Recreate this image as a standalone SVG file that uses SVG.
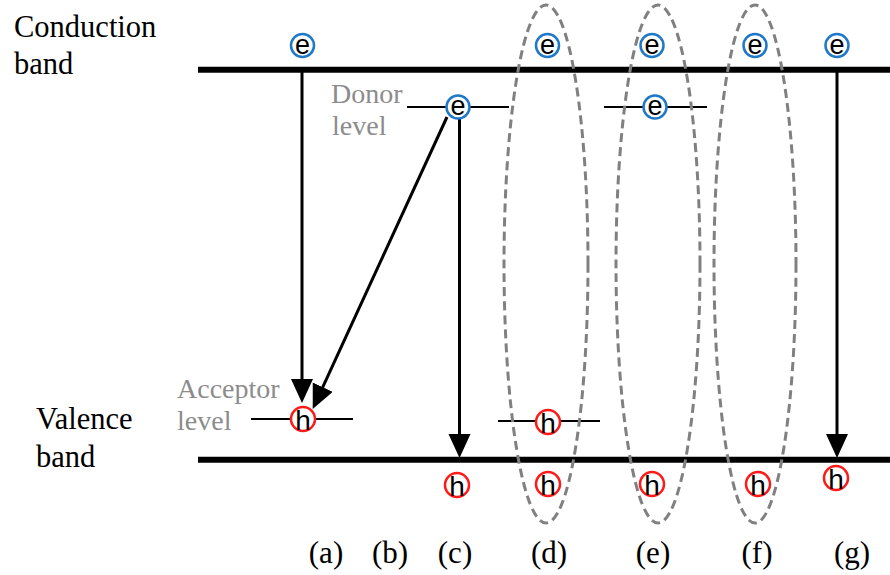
<svg xmlns="http://www.w3.org/2000/svg" width="890" height="575" viewBox="0 0 890 575">
<style>
.band{stroke:#000;stroke-width:6;fill:none}
.lvl{stroke:#000;stroke-width:2;fill:none}
.arr{stroke:#000;stroke-width:3;fill:none}
.ell{stroke:#808080;stroke-width:3;fill:none;stroke-dasharray:9 5}
.ec{fill:#fff;stroke:#1f78c8;stroke-width:2.5}
.hc{fill:#fff;stroke:#ff1a1a;stroke-width:2.5}
.ct{font-family:"Liberation Sans",Arial,sans-serif;font-size:27px;fill:#000;text-anchor:middle}
.ht{font-family:"Liberation Sans",Arial,sans-serif;font-size:28px;fill:#000;text-anchor:middle}
.big{font-family:"Liberation Serif","Times New Roman",serif;font-size:30.5px;fill:#000}
.gray{font-family:"Liberation Serif","Times New Roman",serif;font-size:28px;fill:#8c8c8c}
.lab{font-family:"Liberation Serif","Times New Roman",serif;font-size:31px;fill:#000;text-anchor:middle}
</style>
<defs>
<marker id="ah" markerUnits="userSpaceOnUse" markerWidth="25" markerHeight="23" refX="3" refY="11" orient="auto">
<path d="M0,0 L24,11 L0,22 z" fill="#000"/>
</marker>
</defs>
<g id="labels">
<text class="big" x="14" y="37">Conduction</text>
<text class="big" x="14" y="74">band</text>
<text class="big" x="36" y="429">Valence</text>
<text class="big" x="36" y="467">band</text>
<text class="gray" x="331" y="103">Donor</text>
<text class="gray" x="332" y="135">level</text>
<text class="gray" x="177" y="398">Acceptor</text>
<text class="gray" x="177" y="430">level</text>
<text class="lab" x="326" y="563">(a)</text>
<text class="lab" x="390" y="563">(b)</text>
<text class="lab" x="455" y="563">(c)</text>
<text class="lab" x="549" y="563">(d)</text>
<text class="lab" x="653" y="563">(e)</text>
<text class="lab" x="757" y="563">(f)</text>
<text class="lab" x="852" y="563">(g)</text>
</g>
<g id="bands">
<line class="band" x1="198" y1="69.7" x2="890" y2="69.7"/>
<line class="band" x1="198" y1="459.7" x2="890" y2="459.7"/>
<line class="lvl" x1="407" y1="107" x2="509" y2="107"/>
<line class="lvl" x1="604" y1="107" x2="707" y2="107"/>
<line class="lvl" x1="251" y1="419" x2="353" y2="419"/>
<line class="lvl" x1="498" y1="421" x2="600" y2="421"/>
</g>
<g id="connectors">
<line class="arr" x1="302" y1="72" x2="302" y2="382" marker-end="url(#ah)"/>
<line class="arr" x1="447" y1="117" x2="321.5" y2="389.9" marker-end="url(#ah)"/>
<line class="arr" x1="459.5" y1="118" x2="459.5" y2="437" marker-end="url(#ah)"/>
<line class="arr" x1="837" y1="72" x2="837" y2="437" marker-end="url(#ah)"/>
</g>
<g id="groups">
<ellipse class="ell" cx="546" cy="264" rx="42" ry="259"/>
<ellipse class="ell" cx="658" cy="264" rx="42" ry="259"/>
<ellipse class="ell" cx="755" cy="264" rx="41" ry="259"/>
</g>
<g id="electrons">
<g id="e1"><circle class="ec" cx="302.5" cy="45.5" r="11.5"/><text class="ct" x="302.5" y="53.5">e</text></g>
<g id="e2"><circle class="ec" cx="547.5" cy="45.5" r="11.5"/><text class="ct" x="547.5" y="53.5">e</text></g>
<g id="e3"><circle class="ec" cx="652" cy="45.5" r="11.5"/><text class="ct" x="652" y="53.5">e</text></g>
<g id="e4"><circle class="ec" cx="755" cy="45.5" r="11.5"/><text class="ct" x="755" y="53.5">e</text></g>
<g id="e5"><circle class="ec" cx="837" cy="45.5" r="11.5"/><text class="ct" x="837" y="53.5">e</text></g>
<g id="e6"><circle class="ec" cx="458" cy="107" r="11.5"/><text class="ct" x="458" y="115">e</text></g>
<g id="e7"><circle class="ec" cx="655" cy="107" r="11.5"/><text class="ct" x="655" y="115">e</text></g>
</g>
<g id="holes">
<g id="h1"><circle class="hc" cx="303" cy="419" r="12"/><text class="ht" x="303" y="430">h</text></g>
<g id="h2"><circle class="hc" cx="548" cy="422" r="12"/><text class="ht" x="548" y="433">h</text></g>
<g id="h3"><circle class="hc" cx="457" cy="485" r="12"/><text class="ht" x="457" y="496">h</text></g>
<g id="h4"><circle class="hc" cx="548" cy="484" r="12"/><text class="ht" x="548" y="495">h</text></g>
<g id="h5"><circle class="hc" cx="652" cy="484" r="12"/><text class="ht" x="652" y="495">h</text></g>
<g id="h6"><circle class="hc" cx="758" cy="484" r="12"/><text class="ht" x="758" y="495">h</text></g>
<g id="h7"><circle class="hc" cx="836" cy="478" r="12"/><text class="ht" x="836" y="489">h</text></g>
</g>
</svg>
